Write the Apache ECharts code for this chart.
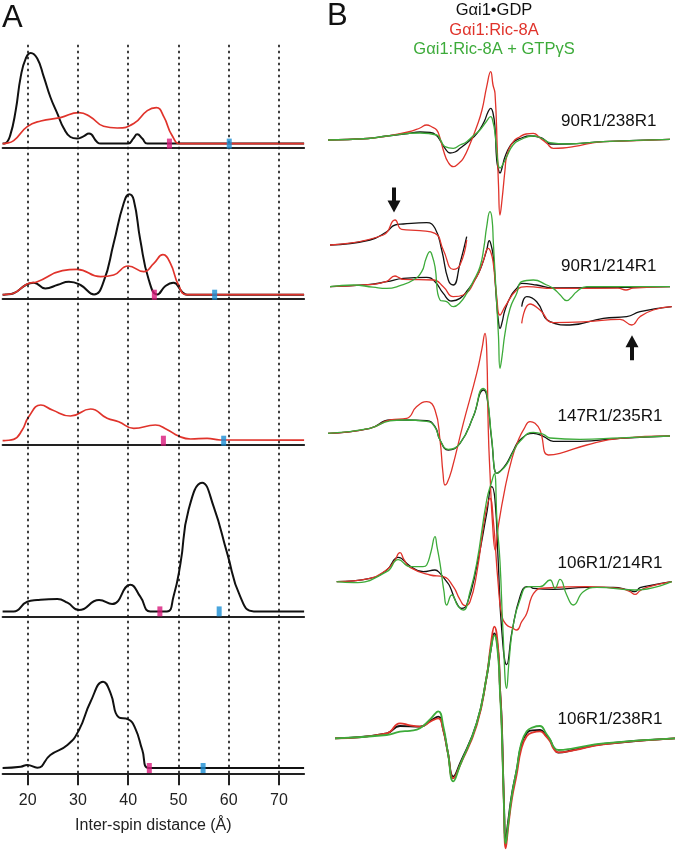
<!DOCTYPE html>
<html><head><meta charset="utf-8">
<script src="https://cdn.jsdelivr.net/npm/echarts@6/dist/echarts.min.js"></script>
<style>html,body{margin:0;padding:0;background:#fff}#c{width:677px;height:852px}</style>
</head><body><div id="c"></div>
<script>
// ---------- Panel A: distance distributions (distance in Å, amplitude in arb. units) ----------
const distTicks = [20, 30, 40, 50, 60, 70];
const A1_black = [[15,0],[15.6,0.5],[16.5,8],[17.6,33],[18.6,66.7],[19.6,85],[20.6,90.6],[21.9,85],[23.2,66.7],[24.5,46.6],[25.9,30],[27.2,15],[28.5,6.6],[29.8,5],[31,7],[32.2,10],[33.8,1.6],[34.5,0],[40,0],[41,5],[41.8,9.3],[42.8,5],[43.8,0],[75,0]];
const A1_red = [[15,0],[15.6,0.3],[17.2,3],[19.9,17],[22.6,22.6],[26.5,26],[30.2,31],[32.5,26.6],[35.1,17.3],[37.8,15.6],[41.1,20],[43.8,33],[45.6,36],[47.1,26.7],[48.7,8.3],[50.4,0],[75,0]];
const A2_black = [[15,0],[15.6,0.2],[17.2,1.5],[19.6,9.7],[21.2,12],[23.5,6.3],[26,10],[28.2,13],[30.5,9.7],[33.2,0.3],[35.1,13],[37.1,51.4],[39.1,91.4],[40.2,100.4],[41.1,94.7],[42.4,54.7],[44.1,14.7],[45.8,0.3],[47.4,8.7],[49.0,12],[50.7,3],[51.7,0],[75,0]];
const A2_red = [[15,0],[15.6,0.2],[17.2,1.5],[19.9,10.7],[21.9,13],[26.9,24],[29.8,25.4],[34.5,18],[37.1,19.7],[40.0,28.7],[43.1,23],[45.1,31.4],[46.9,40],[48.4,31.4],[50.0,9.7],[51.7,0],[75,0]];
const A3_red = [[15,0],[15.6,0.2],[17.2,1.3],[18.9,10.7],[20.2,24],[22.6,35.7],[24.9,30.7],[28.5,24.7],[32.5,31.7],[35.8,22.4],[38.1,19],[41.1,12.3],[45.4,15.7],[47.7,11.3],[50.0,4.7],[52.4,1.7],[55.7,2.3],[58.3,0.7],[75,0.5]];
const A4_black = [[15,0],[17.2,0],[19.9,9.7],[21.9,11.3],[25.9,12.3],[27.9,8.7],[30.2,1.3],[34.2,11.3],[36.8,7.3],[40.4,26.7],[42.4,14.7],[44.4,0],[47.7,0],[49.0,14.7],[50.4,48],[52.0,101.3],[54.7,128.7],[57.0,104.7],[59.7,58],[62.3,14.7],[65.0,0],[75,0]];
const A5_black = [[15,0],[18.6,1.3],[19.9,3],[21.9,0.3],[24.5,13],[27.9,23],[30.2,38],[32.5,66.3],[35.0,86.3],[36.5,74.7],[38.1,50.7],[40.0,48.7],[41.4,39.7],[42.8,18],[44.1,0],[75,0]];
const markMagenta = [48.2, 45.2, 47.0, 46.3, 44.2];
const markBlue = [60.1, 57.2, 59.0, 58.1, 54.9];

// ---------- Panel B: CW EPR spectra (field offset, arb. units; derivative amplitude) ----------
const S1_black = [[0,0],[40,1.5],[59,4],[80,6.5],[92,8],[102,7.5],[108,5],[113,-2],[117,-8.3],[122,-13],[127,-12],[132,-8.3],[140,-2],[149,6.7],[156,18],[160,28],[162.7,31.7],[165,27],[167,12],[168.7,-20],[170.5,-30],[172,-33],[174,-28],[177,-16.7],[182,-6],[187,-1],[192,1.5],[202,4],[212,2.7],[218,-1],[222,-4],[238.7,-4],[275,-1.7],[342,0.7]];
const S1_red = [[0,0],[40,1.5],[59,4],[80,8],[92,12],[98.7,15],[104,13],[108.7,10],[112,2],[115.3,-10],[120,-22],[125.3,-26.7],[130,-24],[135.3,-18.3],[142,-4],[148.7,13.3],[154,30],[158.7,53.3],[162.7,68.3],[165,55],[167,46.7],[169.3,-10],[170.5,-45],[172,-75],[174,-60],[177,-30],[178.7,-16.7],[185,-2],[192,3.3],[198,6],[205.3,6.7],[212,2],[218.7,-3.3],[225.3,-8.3],[235,-8],[245.3,-6.7],[275,-1.7],[308.7,-0.7],[342,0.7]];
const S1_green = [[0,0],[40,1.5],[59,4],[92,7],[108.7,5],[113,-1],[117,-6.7],[125.3,-8.3],[132,-5],[138.7,-1.7],[145,4],[152,10],[158,18],[162.7,23.3],[165,18],[167,6.7],[168.7,-10],[170.3,-25],[172,-28],[175,-24],[178.7,-16.7],[185,-5],[192,0],[205.3,4],[215,1],[222,-2.7],[238.7,-4],[275,-1.7],[342,0.7]];

const S2_black = [[2,0],[40,2],[58.7,5],[75.3,8.3],[98.7,9.3],[107,5],[115.3,-6.7],[123.7,-14.3],[132,-11.7],[140,-3],[148.7,10],[154,22],[158.7,36.7],[161.3,46],[163,42],[165.3,30],[168.7,-16.7],[170.5,-35],[172,-41.7],[174,-36],[177,-23.3],[183,-9],[188.7,-1.7],[193.7,3.3],[208.7,1.7],[225.3,-1.3],[342,0]];
const S2_red = [[2,0],[40,2],[58,5],[67,10.7],[71,9],[75.3,7.3],[105.3,6.7],[115.3,0],[125.3,-10],[135.3,-8.3],[148.7,10],[155,25],[160.3,38.3],[163,34],[165.3,23.3],[168.7,-10],[172,-28.3],[177,-20],[188.7,-3.3],[198.7,0],[225.3,-1.7],[290,-1.5],[298,-3.3],[305,-1.5],[342,0]];
const S2_green = [[2,0],[25.3,1.7],[45,-0.5],[58.7,-1.7],[72,1],[85.3,6.7],[93.7,15],[98,28],[102,35],[104.5,30],[107,20],[112,-13.3],[118.7,-15],[125.3,-20],[132,-16],[138.7,-6.7],[145,5],[152,20],[156,40],[158.7,60],[162,75],[164,68],[165.3,45],[168.7,-16.7],[170.5,-50],[172,-81.7],[174,-70],[177,-46.7],[182,-22],[188.7,-6.7],[193.7,5],[205.3,6.7],[218.7,1.7],[225.3,-1.7],[232,-8],[238.7,-14],[243,-11],[248.7,-5],[258.7,0],[342,0]];
const S2_insetL_black = [[2,41.7],[42,46.7],[58.7,55],[67,61.7],[75.3,62.7],[98.7,64],[107,58.4],[113.7,36.7],[120.3,6.7],[125.3,1.7],[132,23.4],[138.7,50]];
const S2_insetL_red = [[2,41.7],[55.3,51.7],[67,66.7],[73.7,57.4],[92,56],[107,53.4],[115.3,36.7],[125.3,17.4],[132,21.7],[138.7,46.7]];
const S2_insetR_black = [[193.7,-20],[198.7,-10],[208.7,-15],[222,-35],[242,-38.3],[275.3,-31.6],[298.7,-30],[312,-25],[343.7,-20]];
const S2_insetR_red = [[193.7,-36.6],[202,-17.3],[212,-23.3],[225.3,-36],[258.7,-35],[292,-32.6],[303.7,-38.3],[312,-30],[325.3,-23.3],[343.7,-20]];
const S2_arrows = [{field:66, amp:86.7, dir:'down'}, {field:304, amp:-61, dir:'up'}];

const S3_black = [[0,0],[42,5],[62,13.3],[75.3,13.3],[98.7,12.7],[107,6.7],[112,-6.7],[120.3,-16.7],[132,-10],[145.3,16.7],[155.3,43.3],[158.7,38],[163.7,-6.7],[168.7,-40],[172,-38],[178.7,-30],[185,-18],[192,-6.7],[205.3,0],[215.3,-3],[225.3,-8],[252,-8],[292,-5],[342,-2.7]];
const S3_red = [[0,0],[42,5],[62,13.3],[78.7,15],[88.7,26.7],[98.7,31.7],[107,23.3],[112,-6.7],[115,-40],[117,-51.7],[119,-50],[123.7,-36.7],[135.3,10],[148.7,60],[154,85],[157,100],[158.7,83],[160.3,3.3],[162,-40],[164.5,-90],[167.3,-117],[170,-95],[177,-55],[184,-25],[190.3,-7],[196.3,5],[202,11.7],[207,10],[212,3.3],[220.3,-21.7],[232,-20],[258.7,-11.7],[292,-5],[342,-2.7]];
const S3_green = [[0,0],[42,5],[62,12.5],[75.3,13.3],[98.7,12],[107,6],[112,-6.7],[120.3,-16],[132,-10],[145.3,17],[155.3,45],[158.7,40],[163.7,-5],[168.7,-40],[172,-38.5],[178.7,-31],[185,-19],[192,-8],[205.3,1],[215.3,-1],[222,-4.7],[252,-6],[292,-4.5],[342,-2.7]];

const S4_black = [[8.7,0],[42,3.3],[58.7,11.7],[70.3,24.3],[82,15.7],[95.3,10],[107,11.7],[112,8.3],[118.7,0],[122,-5],[128,-20],[133.7,-26.7],[138.7,-23.3],[148.7,15],[158.7,68.3],[163.7,95],[167,81.7],[170.3,18.3],[173.7,-48],[178.7,-83],[184,-50],[192,-15],[198.7,-5],[202,-5],[205.3,-6.7],[225.3,-7.7],[258.7,-5.7],[285.3,-5.7],[300,-8],[307,-10],[312,-6],[325.3,-3.3],[343.7,0]];
const S4_red = [[8.7,0],[42,3.3],[58.7,12],[66,20],[72,29],[76,22],[82,14.3],[102,6.7],[115.3,5],[125.3,-5],[132,-18],[137,-24],[142,-20],[148.7,8.3],[157,65],[162,83.3],[165.3,61.7],[170,0],[174,-35],[178.7,-43.3],[184,-46],[188.7,-48.3],[193.7,-40],[198.7,-31.7],[203.7,-15],[208.7,-8.3],[212,-6.7],[258.7,-5],[292,-6.7],[302,-10],[307,-12.7],[312,-9],[318.7,-5.7],[343.7,0]];
const S4_green = [[8.7,0],[25.3,-1],[58.7,10],[70.3,22],[82,15],[95,15],[98.7,16.7],[103,30],[107,45],[109,35],[112,18.3],[116,-10],[118.7,-23.3],[123.7,-13.3],[130.3,-25],[135.3,-28.3],[142,-10],[148.7,18.3],[158.7,81.7],[163.7,100],[166.3,108],[169,60],[172,20],[175,-50],[178.7,-106.7],[181,-80],[185,-45],[192,-18],[200.3,-5],[212,-5],[222,1.7],[227,-6.7],[232,2.3],[238.7,-13.3],[245.3,-23.3],[255.3,-10],[268.7,-5.7],[307,-8.3],[343.7,0]];

const S5_black = [[7,0],[58.7,5],[72,12.3],[92,11.7],[103,18],[110.3,21.7],[115.3,8.3],[120,-15],[125.3,-38.3],[132,-25],[148.7,15],[158.7,61.7],[163,90],[166.3,105],[170.3,85],[172,50],[173.7,18.3],[176,-65],[177.7,-100],[180.3,-81.7],[184,-55],[188.7,-31.7],[193,-8],[198.7,5],[205,8],[212,8.3],[218,3],[222,-1.7],[226,-10],[230.3,-14.3],[245.3,-11.7],[275.3,-5.7],[347,0]];
const S5_red = [[7,0],[58.7,5],[72,15],[82,13],[92,11.7],[103,17],[110.3,20],[115.3,8],[120,-15],[125.3,-40],[132,-27],[148.7,13],[158.7,62],[163,95],[166.3,111.7],[170.3,88],[172,50],[173.7,15],[176,-70],[177.7,-110],[180.3,-88],[184,-60],[188.7,-36],[193,-12],[198.7,2],[205,6],[212,7],[218,2],[222,-3],[226,-11],[230.3,-14],[245.3,-12],[275.3,-6],[347,0]];
const S5_green = [[7,0],[58.7,3.3],[72,6.7],[82,7.5],[92,10],[103,20],[110.3,27],[115.3,12],[120,-15],[125.3,-43],[132,-27],[148.7,15],[158.7,62],[163,90],[166.3,103],[170.3,80],[172,45],[173.7,10],[176,-70],[177.7,-105],[180.3,-85],[184,-56],[188.7,-31],[193,-6],[198.7,7],[205,11],[212,12.3],[218,5],[222,-1],[226,-9],[230.3,-11.7],[245.3,-10],[275.3,-5],[347,0]];

const spectrumLabels = ['90R1/238R1', '90R1/214R1', '147R1/235R1', '106R1/214R1', '106R1/238R1'];
const legendLabels = ['G\u03b1i1\u2022GDP', 'G\u03b1i1:Ric-8A', 'G\u03b1i1:Ric-8A + GTP\u03b3S'];

// ---------- build ----------
const FONT = 'Liberation Sans, Arial, sans-serif';
const BLACK = '#111111', RED = '#e0332b', GREEN = '#3dab3a', MAG = '#d8197b', BLUE = '#1b8fd5';

const gridsA = [
  {top: 43, height: 105, off: 4.4},
  {top: 148, height: 150.7, off: 4},
  {top: 298.7, height: 146.3, off: 4.3},
  {top: 445, height: 171.7, off: 5.3},
  {top: 616.7, height: 156.6, off: 5.3}
];
const panelsA = [
  {black: A1_black, red: A1_red},
  {black: A2_black, red: A2_red},
  {black: null, red: A3_red},
  {black: A4_black, red: null},
  {black: A5_black, red: null}
];
const grid = [], xAxis = [], yAxis = [], series = [];

gridsA.forEach((g, i) => {
  grid.push({left: 2.6, width: 301.5, top: g.top, height: g.height});
  xAxis.push({gridIndex: i, type: 'value', min: 15, max: 75,
    axisLine: {show: true, onZero: false, lineStyle: {color: '#222', width: 2}},
    axisTick: {show: false}, axisLabel: {show: false}, splitLine: {show: false}});
  yAxis.push({gridIndex: i, type: 'value', min: -g.off, max: g.height - g.off, show: false});
  const p = panelsA[i];
  if (p.black) series.push({type: 'line', xAxisIndex: i, yAxisIndex: i, data: p.black, showSymbol: false,
    smooth: 0.5, lineStyle: {color: BLACK, width: 2}, z: 3, silent: true});
  if (p.red) series.push({type: 'line', xAxisIndex: i, yAxisIndex: i, data: p.red, showSymbol: false,
    smooth: 0.5, lineStyle: {color: RED, width: 1.7}, z: 4, silent: true});
  series.push({type: 'scatter', xAxisIndex: i, yAxisIndex: i, data: [[markMagenta[i], 0]], symbol: 'rect',
    symbolSize: [5, 10], itemStyle: {color: MAG}, z: 6, silent: true});
  series.push({type: 'scatter', xAxisIndex: i, yAxisIndex: i, data: [[markBlue[i], 0]], symbol: 'rect',
    symbolSize: [5, 10], itemStyle: {color: BLUE}, z: 6, silent: true});
});

// overlay grid for dashed guides + bottom tick labels
const OV = 5;
grid.push({left: 2.6, width: 301.5, top: 43, height: 730.3});
xAxis.push({gridIndex: OV, type: 'value', min: 15, max: 75, position: 'bottom',
  axisLine: {show: false},
  axisTick: {show: true, customValues: distTicks, length: 12, lineStyle: {color: '#222', width: 2}},
  axisLabel: {show: true, customValues: distTicks, fontSize: 16, color: '#222', fontFamily: FONT, margin: 19},
  splitLine: {show: false},
  name: 'Inter-spin distance (\u00c5)', nameLocation: 'middle', nameGap: 44,
  nameTextStyle: {fontSize: 16, color: '#222', fontFamily: FONT}});
yAxis.push({gridIndex: OV, type: 'value', min: 0, max: 1, show: false});
series.push({type: 'line', xAxisIndex: OV, yAxisIndex: OV, data: [[20, -5]], showSymbol: false, silent: true, z: 1,
  lineStyle: {opacity: 0},
  markLine: {silent: true, symbol: 'none', label: {show: false}, animation: false,
    lineStyle: {color: '#111', width: 1.6, type: [2.5, 3.5]},
    data: distTicks.map(t => ({xAxis: t}))}});

// Panel B grids
const gridsB = [
  {top: 60, height: 160, r: 80},
  {top: 196.7, height: 180, r: 90},
  {top: 313.3, height: 240, r: 120},
  {top: 461.7, height: 240, r: 120},
  {top: 625.3, height: 226, r: 113}
];
const spectraB = [
  [[S1_black, BLACK], [S1_red, RED], [S1_green, GREEN]],
  [[S2_insetL_black, BLACK], [S2_insetL_red, RED], [S2_insetR_black, BLACK], [S2_insetR_red, RED],
   [S2_black, BLACK], [S2_red, RED], [S2_green, GREEN]],
  [[S3_black, BLACK], [S3_red, RED], [S3_green, GREEN]],
  [[S4_black, BLACK], [S4_red, RED], [S4_green, GREEN]],
  [[S5_black, BLACK], [S5_red, RED], [S5_green, GREEN]]
];
const downArrow = 'path://M4.5,0 L8.5,0 L8.5,13 L13,13 L6.5,25 L0,13 L4.5,13 Z';
const upArrow = 'path://M6.5,0 L13,12 L8.5,12 L8.5,25 L4.5,25 L4.5,12 L0,12 Z';

gridsB.forEach((g, k) => {
  const gi = 6 + k;
  grid.push({left: 328, width: 347, top: g.top, height: g.height});
  xAxis.push({gridIndex: gi, type: 'value', min: 0, max: 347, show: false});
  yAxis.push({gridIndex: gi, type: 'value', min: -g.r, max: g.r, show: false});
  spectraB[k].forEach(([d, c], j) => {
    series.push({type: 'line', xAxisIndex: gi, yAxisIndex: gi, data: d, showSymbol: false, clip: false,
      smooth: 0.5, lineStyle: {color: c, width: k === 4 ? 1.8 : 1.3}, z: 3 + j, silent: true});
  });
  if (k === 1) {
    series.push({type: 'line', xAxisIndex: gi, yAxisIndex: gi, data: [], silent: true,
      markPoint: {silent: true, label: {show: false}, animation: false,
        data: S2_arrows.map(a => ({coord: [a.field, a.amp], symbol: a.dir === 'down' ? downArrow : upArrow,
          symbolSize: [13, 25], itemStyle: {color: '#111'}}))}});
  }
});

const graphic = [
  {type: 'text', x: 2, y: 3, style: {text: 'A', font: '31px ' + FONT, fill: '#111'}},
  {type: 'text', x: 327, y: 1, style: {text: 'B', font: '31px ' + FONT, fill: '#111'}}
];
const legendColors = [BLACK, RED, GREEN];
const legendY = [10, 30.5, 49];
legendLabels.forEach((t, i) => graphic.push({type: 'text', x: 494, y: legendY[i],
  style: {text: t, font: '16.5px ' + FONT, fill: legendColors[i], align: 'center', verticalAlign: 'middle'}}));
const labelX = [561, 561, 557.5, 557.5, 557.5];
const labelY = [121.5, 266.5, 416.7, 563, 719.4];
spectrumLabels.forEach((t, i) => graphic.push({type: 'text', x: labelX[i], y: labelY[i],
  style: {text: t, font: '17px ' + FONT, fill: '#111', align: 'left', verticalAlign: 'middle'}}));

const chart = echarts.init(document.getElementById('c'), null, {renderer: 'canvas'});
chart.setOption({animation: false, backgroundColor: '#fff', grid, xAxis, yAxis, series, graphic});
</script></body></html>
